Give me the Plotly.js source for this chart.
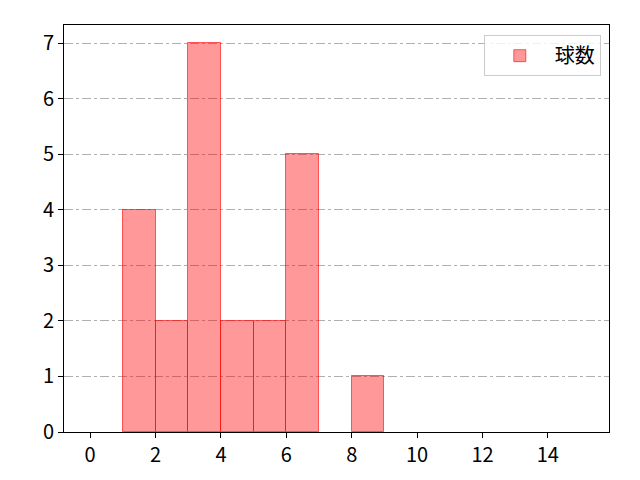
<!DOCTYPE html>
<html><head><meta charset="utf-8">
<script src="https://cdn.plot.ly/plotly-3.0.1.min.js"></script>
<style>body{margin:0}</style></head>
<body><div id="chart" style="width:640px;height:480px"></div>
<script>
const binLeft = [1, 2, 3, 4, 5, 6, 8];
const counts = [4, 2, 7, 2, 2, 5, 1];
const seriesName = '球数';
const xTicks = [0, 2, 4, 6, 8, 10, 12, 14];
const yTicks = [0, 1, 2, 3, 4, 5, 6, 7];

Plotly.newPlot('chart', [{
  type: 'bar', x: binLeft, y: counts, width: 1, offset: 0, name: seriesName,
  marker: {color: 'rgba(255,0,0,0.4)', line: {color: 'rgba(255,0,0,0.6)', width: 1}},
  showlegend: true
}], {
  width: 640, height: 480,
  margin: {l: 64, r: 31, t: 25, b: 48},
  paper_bgcolor: 'white', plot_bgcolor: 'white',
  font: {family: '"Noto Sans CJK JP", "Noto Sans", sans-serif', size: 20, color: 'black'},
  xaxis: {range: [-0.8, 15.87], tickvals: xTicks, ticks: 'outside', ticklen: 5, tickcolor: 'black',
          tickfont: {size: 20},
          showgrid: false, zeroline: false, showline: true, mirror: true, linecolor: 'black', linewidth: 1},
  yaxis: {range: [0, 7.33], tickvals: yTicks, ticks: 'outside', ticklen: 5, tickcolor: 'black',
          tickfont: {size: 20},
          showgrid: true, gridcolor: '#b0b0b0', griddash: 'dashdot', gridwidth: 1,
          zeroline: false, showline: true, mirror: true, linecolor: 'black', linewidth: 1},
  legend: {x: 0.985, y: 0.975, xanchor: 'right', yanchor: 'top', bgcolor: 'rgba(255,255,255,0.8)',
           bordercolor: '#cccccc', borderwidth: 1, font: {size: 20}, itemwidth: 60},
  bargap: 0
}, {displayModeBar: false});
</script></body></html>
